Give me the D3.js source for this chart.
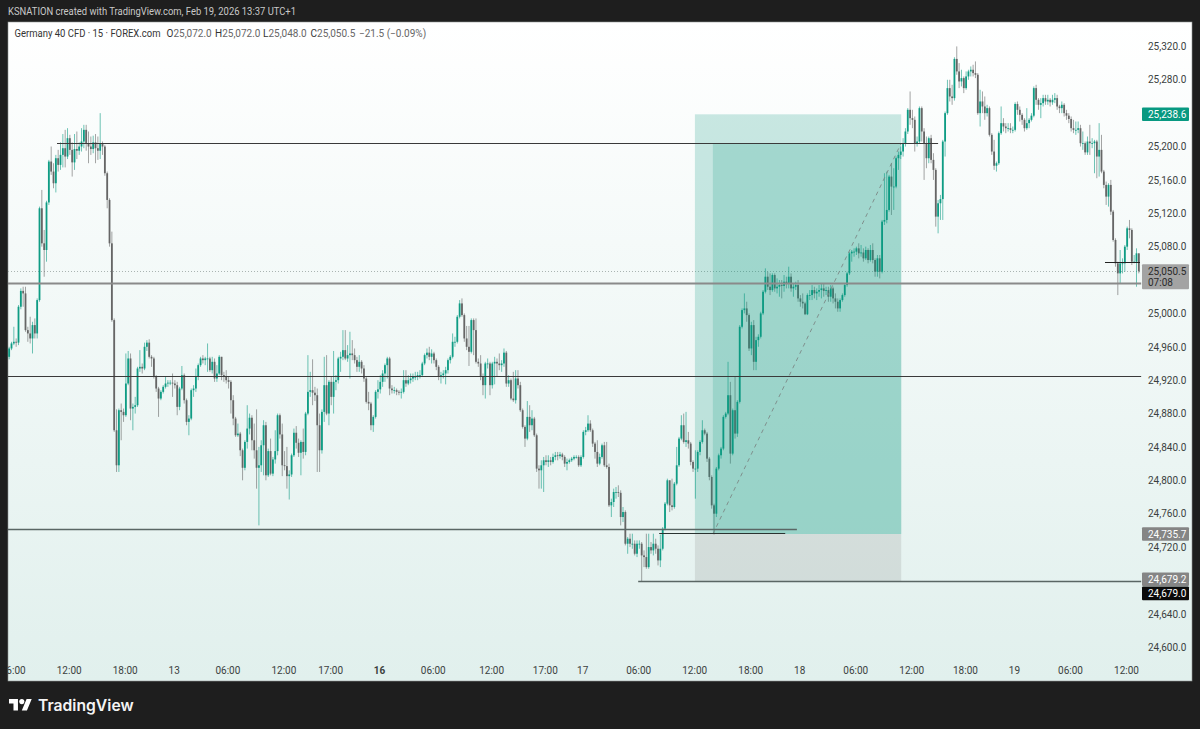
<!DOCTYPE html>
<html>
<head>
  <meta charset="utf-8">
  <script src="https://d3js.org/d3.v7.min.js"></script>
  <style>
    html, body { margin: 0; padding: 0; background: #1e1e1e; }
    svg { display: block; font-family: Roboto, sans-serif; }
  </style>
</head>
<body>
<svg id="chart" width="1200" height="729"></svg>
<script>
  // 15 minute candles
  var opens = [
    24948,24958,24964,24966,24965,25008,25027,25024,24980,24976,24970,24986,24976,25016,25126,25084,25076,25133,25182,25170,
    25156,25186,25178,25190,25198,25188,25210,25196,25181,25197,25195,25200,25206,25220,25204,25200,25197,25205,25198,25195,
    25203,25200,25168,25136,25084,24992,24860,24818,24884,24882,24878,24916,24946,24886,24888,24890,24934,24936,24934,24960,
    24965,24948,24946,24924,24910,24898,24906,24912,24916,24917,24917,24916,24914,24888,24910,24926,24896,24870,24874,24908,
    24910,24924,24938,24946,24944,24946,24946,24932,24942,24922,24928,24948,24926,24924,24920,24918,24896,24874,24854,24856,
    24836,24815,24846,24862,24875,24848,24836,24815,24818,24842,24866,24806,24835,24808,24825,24835,24878,24855,24818,24817,
    24805,24807,24830,24857,24845,24833,24846,24834,24880,24906,24908,24905,24902,24866,24836,24882,24914,24880,24918,24900,
    24918,24920,24946,24948,24956,24946,24950,24952,24950,24944,24936,24942,24934,24922,24894,24892,24866,24876,24906,24909,
    24918,24928,24938,24946,24910,24908,24908,24906,24905,24906,24920,24916,24920,24922,24924,24924,24926,24926,24940,24950,
    24953,24948,24952,24944,24936,24924,24926,24928,24932,24944,24948,24966,24966,24996,25012,24998,24970,24960,24954,24992,
    24980,24942,24940,24924,24914,24940,24940,24914,24940,24942,24940,24938,24940,24953,24916,24920,24898,24896,24922,24914,
    24884,24864,24850,24876,24866,24874,24854,24814,24812,24818,24824,24822,24824,24822,24828,24830,24829,24831,24828,24820,
    24822,24824,24826,24828,24828,24818,24828,24858,24860,24868,24860,24844,24834,24820,24828,24842,24818,24816,24770,24774,
    24786,24786,24785,24756,24762,24724,24730,24724,24724,24712,24724,24724,24710,24708,24696,24720,24716,24724,24718,24704,
    24718,24742,24772,24800,24770,24768,24796,24818,24850,24866,24846,24848,24844,24822,24814,24814,24834,24846,24860,24856,
    24826,24804,24770,24760,24814,24830,24838,24876,24880,24902,24832,24884,24856,24894,24984,25004,25006,24998,24958,24986,
    24942,24968,24972,25000,25026,25044,25032,25028,25046,25030,25032,25034,25033,25038,25036,25044,25030,25032,25034,25018,
    25014,25012,24999,25022,25022,25028,25024,25026,25028,25030,25027,25028,25020,25030,25018,25014,25006,25016,25022,25034,
    25048,25072,25074,25074,25078,25072,25073,25066,25076,25064,25076,25064,25050,25066,25050,25110,25112,25124,25164,25152,
    25152,25186,25190,25194,25204,25218,25244,25234,25232,25204,25206,25246,25218,25204,25186,25210,25184,25172,25116,25132,
    25137,25206,25240,25270,25260,25258,25305,25290,25278,25282,25270,25284,25290,25292,25288,25286,25240,25254,25248,25240,
    25246,25214,25194,25177,25180,25216,25228,25224,25222,25222,25220,25220,25251,25244,25238,25232,25222,25228,25232,25237,
    25270,25256,25250,25252,25258,25254,25256,25253,25256,25258,25248,25246,25250,25240,25237,25233,25222,25220,25220,25222,
    25204,25204,25193,25206,25204,25204,25206,25188,25196,25170,25154,25140,25154,25122,25088,25060,25048,25060,25060,25080,
    25102,25100,25062,25062,25072
  ];
  var highs = [
    24960,24966,24984,24970,25010,25030,25032,25032,24984,24996,24990,24994,25018,25128,25148,25100,25135,25184,25200,25180,
    25190,25196,25205,25215,25220,25222,25214,25205,25215,25218,25205,25222,25226,25226,25218,25212,25213,25215,25212,25240,
    25206,25202,25170,25138,25098,24994,24885,24886,24892,24886,24952,24955,24952,24892,24900,24936,24956,24940,24965,24968,
    24969,24950,24948,24926,24912,24908,24914,24924,24920,24920,24928,24920,24918,24912,24937,24928,24898,24878,24910,24914,
    24934,24940,24948,24950,24948,24964,24948,24948,24946,24938,24950,24948,24930,24932,24924,24920,24902,24876,24868,24858,
    24838,24848,24890,24880,24878,24868,24885,24840,24848,24872,24870,24838,24850,24828,24860,24880,24880,24868,24835,24840,
    24812,24832,24862,24865,24850,24848,24862,24882,24950,24930,24945,24912,24910,24880,24885,24948,24950,24920,24924,24955,
    24926,24948,24954,24980,24980,24962,24978,24968,24958,24948,24950,24944,24938,24924,24906,24894,24878,24908,24920,24926,
    24932,24940,24948,24948,24914,24912,24910,24908,24910,24932,24932,24926,24928,24928,24930,24930,24932,24942,24952,24958,
    24960,24957,24954,24946,24938,24930,24932,24936,24946,24950,24976,24972,24998,25016,25018,25000,24985,24985,24994,24994,
    24994,24946,24950,24928,24942,24946,24942,24942,24948,24946,24952,24944,24958,24955,24926,24922,24930,24932,24932,24918,
    24886,24866,24895,24890,24884,24876,24856,24818,24824,24828,24830,24830,24828,24832,24834,24834,24834,24833,24830,24826,
    24826,24828,24830,24830,24830,24830,24860,24864,24878,24872,24862,24846,24848,24832,24844,24846,24846,24820,24778,24790,
    24792,24794,24788,24768,24764,24732,24736,24736,24728,24728,24728,24726,24716,24736,24736,24726,24736,24730,24722,24735,
    24744,24774,24802,24800,24802,24798,24840,24852,24878,24880,24882,24858,24846,24824,24836,24836,24848,24872,24862,24858,
    24828,24806,24772,24816,24832,24840,24878,24882,24942,24918,24886,24924,24896,24986,25006,25024,25014,25000,24990,24992,
    24972,24975,25002,25028,25054,25050,25048,25048,25048,25042,25040,25040,25046,25044,25056,25048,25036,25038,25040,25022,
    25024,25014,25024,25028,25034,25032,25030,25034,25036,25036,25032,25032,25034,25032,25024,25018,25018,25024,25036,25050,
    25074,25076,25078,25080,25084,25082,25078,25080,25078,25082,25084,25066,25070,25070,25112,25168,25170,25166,25180,25174,
    25188,25194,25200,25210,25222,25246,25266,25244,25236,25212,25248,25248,25222,25212,25212,25214,25192,25174,25136,25142,
    25208,25242,25280,25280,25274,25307,25320,25300,25292,25284,25290,25292,25296,25298,25302,25288,25268,25266,25260,25250,
    25248,25216,25208,25182,25218,25248,25234,25228,25228,25228,25224,25253,25254,25248,25240,25234,25246,25234,25240,25272,
    25274,25258,25258,25262,25262,25262,25258,25262,25264,25262,25250,25254,25252,25244,25240,25236,25232,25230,25230,25226,
    25218,25206,25212,25226,25210,25208,25208,25228,25214,25172,25158,25156,25160,25124,25090,25062,25076,25066,25082,25104,
    25112,25102,25070,25078,25072
  ];
  var lows = [
    24945,24956,24962,24960,24962,25005,25008,24978,24966,24964,24952,24970,24970,25014,25080,25044,25062,25130,25166,25150,
    25145,25170,25172,25175,25175,25185,25190,25164,25172,25185,25190,25194,25198,25195,25180,25190,25192,25180,25184,25185,
    25190,25165,25126,25080,24990,24858,24810,24810,24848,24870,24876,24914,24872,24860,24880,24888,24930,24928,24932,24955,
    24946,24936,24922,24906,24876,24896,24904,24910,24912,24914,24900,24910,24878,24884,24908,24892,24866,24854,24872,24900,
    24906,24920,24936,24940,24938,24930,24930,24928,24918,24918,24926,24920,24918,24916,24910,24880,24866,24852,24852,24829,
    24800,24812,24838,24855,24836,24826,24790,24746,24810,24806,24800,24804,24806,24805,24820,24830,24850,24805,24812,24790,
    24777,24804,24828,24838,24828,24806,24826,24830,24878,24900,24890,24895,24810,24810,24832,24870,24878,24866,24890,24880,
    24908,24916,24930,24944,24944,24942,24922,24944,24940,24930,24930,24928,24918,24892,24884,24860,24858,24874,24898,24904,
    24912,24918,24922,24902,24904,24904,24902,24902,24898,24904,24912,24914,24916,24918,24920,24920,24922,24924,24938,24946,
    24944,24940,24940,24932,24920,24916,24922,24915,24928,24940,24946,24960,24964,24994,24996,24966,24956,24937,24952,24950,
    24940,24936,24920,24902,24898,24934,24902,24910,24915,24924,24932,24930,24936,24912,24912,24896,24894,24892,24910,24882,
    24862,24840,24848,24858,24860,24852,24810,24790,24790,24786,24818,24816,24818,24820,24824,24824,24826,24824,24816,24812,
    24820,24822,24824,24826,24816,24816,24826,24854,24858,24858,24840,24826,24816,24818,24826,24816,24814,24768,24756,24768,
    24778,24780,24746,24750,24722,24712,24720,24718,24710,24708,24718,24679,24696,24694,24694,24712,24710,24712,24698,24696,
    24716,24740,24770,24762,24764,24766,24794,24816,24848,24844,24840,24838,24818,24810,24778,24810,24830,24844,24854,24822,
    24800,24766,24735,24756,24812,24826,24836,24874,24878,24820,24830,24850,24852,24892,24982,25000,24990,24955,24950,24932,
    24932,24960,24970,24998,25024,25028,25022,25026,25026,25024,25020,25018,25026,25030,25030,25026,25020,25028,25014,25008,
    25006,24998,24998,25016,25016,25018,25016,25020,25018,25020,25022,25014,25014,25012,25006,25002,25002,25014,25020,25032,
    25046,25062,25068,25070,25066,25068,25062,25064,25060,25062,25060,25044,25044,25042,25048,25106,25108,25122,25118,25124,
    25150,25172,25185,25188,25200,25215,25226,25222,25194,25200,25204,25206,25160,25174,25180,25180,25160,25104,25096,25112,
    25112,25188,25238,25254,25250,25255,25286,25270,25272,25264,25268,25280,25284,25284,25282,25238,25224,25240,25232,25236,
    25212,25190,25172,25170,25178,25214,25218,25216,25218,25216,25216,25218,25238,25230,25226,25218,25220,25222,25230,25235,
    25250,25244,25234,25248,25250,25250,25248,25250,25252,25244,25240,25240,25236,25232,25228,25218,25216,25214,25216,25200,
    25196,25190,25190,25190,25198,25168,25162,25164,25168,25150,25130,25128,25118,25086,25056,25022,25036,25048,25050,25076,
    25090,25058,25060,25032,25048
  ];
  var closes = [
    24958,24964,24966,24965,25008,25027,25024,24980,24976,24970,24986,24976,25016,25126,25084,25076,25133,25182,25170,25156,
    25186,25178,25190,25198,25188,25210,25196,25181,25197,25195,25200,25206,25220,25204,25200,25197,25205,25198,25195,25203,
    25200,25168,25136,25084,24992,24860,24818,24884,24882,24878,24916,24946,24886,24888,24890,24934,24936,24934,24960,24965,
    24948,24946,24924,24910,24898,24906,24912,24916,24917,24917,24916,24914,24888,24910,24926,24896,24870,24874,24908,24910,
    24924,24938,24946,24944,24946,24946,24932,24942,24922,24928,24948,24926,24924,24920,24918,24896,24874,24854,24856,24836,
    24815,24846,24862,24875,24848,24836,24815,24818,24842,24866,24806,24835,24808,24825,24835,24878,24855,24818,24817,24805,
    24807,24830,24857,24845,24833,24846,24834,24880,24906,24908,24905,24902,24866,24836,24882,24914,24880,24918,24900,24918,
    24920,24946,24948,24956,24946,24950,24952,24950,24944,24936,24942,24934,24922,24894,24892,24866,24876,24906,24909,24918,
    24928,24938,24946,24910,24908,24908,24906,24905,24906,24920,24916,24920,24922,24924,24924,24926,24926,24940,24950,24953,
    24948,24952,24944,24936,24924,24926,24928,24932,24944,24948,24966,24966,24996,25012,24998,24970,24960,24954,24992,24980,
    24942,24940,24924,24914,24940,24940,24914,24940,24942,24940,24938,24940,24953,24916,24920,24898,24896,24922,24914,24884,
    24864,24850,24876,24866,24874,24854,24814,24812,24818,24824,24822,24824,24822,24828,24830,24829,24831,24828,24820,24822,
    24824,24826,24828,24828,24818,24828,24858,24860,24868,24860,24844,24834,24820,24828,24842,24818,24816,24770,24774,24786,
    24786,24785,24756,24762,24724,24730,24724,24724,24712,24724,24724,24710,24708,24696,24720,24716,24724,24718,24704,24718,
    24742,24772,24800,24770,24768,24796,24818,24850,24866,24846,24848,24844,24822,24814,24814,24834,24846,24860,24856,24826,
    24804,24770,24760,24814,24830,24838,24876,24880,24902,24832,24884,24856,24894,24984,25004,25006,24998,24958,24986,24942,
    24968,24972,25000,25026,25044,25032,25028,25046,25030,25032,25034,25033,25038,25036,25044,25030,25032,25034,25018,25014,
    25012,24999,25022,25022,25028,25024,25026,25028,25030,25027,25028,25020,25030,25018,25014,25006,25016,25022,25034,25048,
    25072,25074,25074,25078,25072,25073,25066,25076,25064,25076,25064,25050,25066,25050,25110,25112,25124,25164,25152,25152,
    25186,25190,25194,25204,25218,25244,25234,25232,25204,25206,25246,25218,25204,25186,25210,25184,25172,25116,25132,25137,
    25206,25240,25270,25260,25258,25305,25290,25278,25282,25270,25284,25290,25292,25288,25286,25240,25254,25248,25240,25246,
    25214,25194,25177,25180,25216,25228,25224,25222,25222,25220,25220,25251,25244,25238,25232,25222,25228,25232,25237,25270,
    25256,25250,25252,25258,25254,25256,25253,25256,25258,25248,25246,25250,25240,25237,25233,25222,25220,25220,25222,25204,
    25204,25193,25206,25204,25204,25206,25188,25196,25170,25154,25140,25154,25122,25088,25060,25048,25060,25060,25080,25102,
    25100,25062,25062,25072,25050.5
  ];

  var priceTicks = [24600,24640,24720,24760,24800,24840,24880,24920,24960,25000,25080,25120,25160,25200,25280,25320];

  // bar index and label of each time tick
  var timeIndex = [2,26,50,71,94,118,138,159,182,207,230,246,270,294,318,339,363,387,410,431,455,479];
  var timeLabels = ['06:00','12:00','18:00','13','06:00','12:00','17:00','16','06:00','12:00','17:00','17','06:00','12:00','18:00','18','06:00','12:00','18:00','19','06:00','12:00'];

  var levels = [
    {price: 25204, from: 21, to: 398.5, color: '#3a3a3a', width: 1},
    {price: 25035.5, from: 0, to: 485.5, color: '#8a8a8a', width: 2},
    {price: 24925, from: 0, to: 485.5, color: '#3a3a3a', width: 1},
    {price: 24740.5, from: 0, to: 338, color: '#5a6664', width: 1.4},
    {price: 24735.7, from: 279, to: 333, color: '#2a3331', width: 1},
    {price: 24679.2, from: 270, to: 485.5, color: '#5a6664', width: 1.4},
    {price: 25060.5, from: 470, to: 485, color: '#222', width: 1}
  ];

  var target = 25238.6, entry = 24735.7, stop = 24679.2, hit = 25204;
  var boxFrom = 294.3, boxHit = 302, boxTo = 382.7;

  var priceLabels = [
    {price: 25238.6, text: '25,238.6', bg: '#089981', fg: '#fff'},
    {price: 24735.7, text: '24,735.7', bg: '#858585', fg: '#fff'},
    {price: 24681.4, text: '24,679.2', bg: '#858585', fg: '#fff'},
    {price: 24664.5, text: '24,679.0', bg: '#0a0a0a', fg: '#fff'}
  ];

  var svg = d3.select('#chart');
  var left = 8, top_ = 22, right = 1192, bottom = 681, plotRight = 1141;

  var x = d3.scaleLinear().domain([0, 485]).range([left, 1140]);
  var y = d3.scaleLinear().domain([24600, 25320]).range([647.2, 46.4]);
  var n = closes.length;

  // keep thin lines on the pixel grid
  function snap(v) { return Math.round(v - 0.5) + 0.5; }

  var defs = svg.append('defs');
  var grad = defs.append('linearGradient').attr('id', 'bg').attr('x1', 0).attr('x2', 0).attr('y1', 0).attr('y2', 1);
  grad.append('stop').attr('offset', '0%').attr('stop-color', '#ffffff');
  grad.append('stop').attr('offset', '100%').attr('stop-color', '#e1f0ed');
  defs.append('clipPath').attr('id', 'plot').append('rect')
    .attr('x', left).attr('y', top_).attr('width', right - left).attr('height', bottom - top_);

  svg.append('rect').attr('x', 0).attr('y', 0).attr('width', 1200).attr('height', 729).attr('fill', '#1e1e1e');
  svg.append('rect').attr('x', left).attr('y', top_).attr('width', right - left).attr('height', bottom - top_)
    .attr('fill', 'url(#bg)').attr('stroke', '#8f9493').attr('stroke-width', 0.6);

  // last price dotted line
  svg.append('line').attr('x1', left).attr('x2', plotRight).attr('y1', snap(y(25050.5))).attr('y2', snap(y(25050.5)))
    .attr('stroke', '#aab4b2').attr('stroke-width', 1).attr('stroke-dasharray', '1,2');

  // candles
  var candles = svg.append('g').attr('clip-path', 'url(#plot)').selectAll('g').data(d3.range(n)).enter().append('g');
  function candleColor(i) { return closes[i] >= opens[i] ? '#0f9c84' : '#666666'; }
  candles.append('line')
    .attr('x1', function(i) { return x(i + 0.5); })
    .attr('x2', function(i) { return x(i + 0.5); })
    .attr('y1', function(i) { return y(highs[i]); })
    .attr('y2', function(i) { return y(lows[i]); })
    .attr('stroke', candleColor)
    .attr('stroke-opacity', 0.75)
    .attr('stroke-width', 0.8);
  candles.append('rect')
    .attr('x', function(i) { return x(i + 0.5) - 0.9; })
    .attr('width', 1.8)
    .attr('y', function(i) { return y(Math.max(opens[i], closes[i])); })
    .attr('height', function(i) { return Math.max(0.8, Math.abs(y(opens[i]) - y(closes[i]))); })
    .attr('fill', candleColor);

  // long position tool
  var pos = svg.append('g');
  pos.append('rect').attr('x', x(boxFrom)).attr('width', x(boxTo) - x(boxFrom))
    .attr('y', y(target)).attr('height', y(entry) - y(target)).attr('fill', '#089981').attr('fill-opacity', 0.21);
  pos.append('rect').attr('x', x(boxHit)).attr('width', x(boxTo) - x(boxHit))
    .attr('y', y(hit)).attr('height', y(entry) - y(hit)).attr('fill', '#089981').attr('fill-opacity', 0.19);
  pos.append('rect').attr('x', x(boxFrom)).attr('width', x(boxTo) - x(boxFrom))
    .attr('y', y(entry)).attr('height', y(stop) - y(entry)).attr('fill', '#787878').attr('fill-opacity', 0.18);
  pos.append('line').attr('x1', x(boxHit)).attr('x2', x(boxTo)).attr('y1', y(entry)).attr('y2', y(hit))
    .attr('stroke', '#7c8886').attr('stroke-width', 0.9).attr('stroke-dasharray', '4,4');

  // horizontal levels
  svg.append('g').selectAll('line').data(levels).enter().append('line')
    .attr('x1', function(d) { return x(d.from); })
    .attr('x2', function(d) { return x(d.to); })
    .attr('y1', function(d) { return snap(y(d.price)); })
    .attr('y2', function(d) { return snap(y(d.price)); })
    .attr('stroke', function(d) { return d.color; })
    .attr('stroke-width', function(d) { return d.width; });

  // axes
  var yAxis = d3.axisRight(y).tickValues(priceTicks).tickSize(0).tickFormat(d3.format(',.1f'));
  var yG = svg.append('g').attr('transform', 'translate(1146,0)').call(yAxis);
  yG.select('.domain').remove();
  yG.selectAll('text').attr('x', 2).attr('fill', '#3b3f3e').style('font-size', '10px').style('font-family', 'Roboto, sans-serif');

  var xAxis = d3.axisBottom(x).tickValues(timeIndex).tickSize(0).tickFormat(function(d, i) { return timeLabels[i]; });
  var xG = svg.append('g').attr('clip-path', 'url(#plot)').append('g').attr('transform', 'translate(0,667)').call(xAxis);
  xG.select('.domain').remove();
  xG.selectAll('text').attr('y', 0).attr('dy', '0.71em').attr('fill', '#3b3f3e').style('font-size', '10px')
    .style('font-family', 'Roboto, sans-serif')
    .style('font-weight', function(d, i) { return timeLabels[i] === '16' ? 700 : 400; });

  // price labels on the scale
  var pl = svg.append('g').selectAll('g').data(priceLabels).enter().append('g')
    .attr('transform', function(d) { return 'translate(1142,' + y(d.price) + ')'; });
  pl.append('rect').attr('x', 0).attr('y', -6.8).attr('width', 47).attr('height', 13.6).attr('rx', 1)
    .attr('fill', function(d) { return d.bg; });
  pl.append('text').attr('x', 6).attr('dy', '0.36em').attr('fill', function(d) { return d.fg; })
    .style('font-size', '10px').text(function(d) { return d.text; });

  // last price and countdown
  var last = svg.append('g').attr('transform', 'translate(1142,' + y(25050.5) + ')');
  last.append('rect').attr('y', -7).attr('width', 47).attr('height', 25).attr('rx', 1).attr('fill', '#a3a3a3');
  last.append('text').attr('x', 6).attr('dy', '0.36em').attr('fill', '#2a2a2a').style('font-size', '10px').text('25,050.5');
  last.append('text').attr('x', 6).attr('y', 11.5).attr('dy', '0.36em').attr('fill', '#2a2a2a').style('font-size', '10px').text('07:08');

  // header and legend
  svg.append('text').attr('x', 8).attr('y', 15).attr('fill', '#c9c9c9').style('font-size', '10px')
    .attr('textLength', 288).attr('lengthAdjust', 'spacingAndGlyphs')
    .text('KSNATION created with TradingView.com, Feb 19, 2026 13:37 UTC+1');

  var legend = svg.append('g').attr('transform', 'translate(0,37)').style('font-size', '10px');
  legend.append('text').attr('x', 14.5).attr('fill', '#333')
    .attr('textLength', 146).attr('lengthAdjust', 'spacingAndGlyphs')
    .text('Germany 40 CFD \u00b7 15 \u00b7 FOREX.com');
  [['O', '25,072.0', 166.5], ['H', '25,072.0', 215], ['L', '25,048.0', 263], ['C', '25,050.5', 310.5]].forEach(function(p) {
    var t = legend.append('text').attr('x', p[2]).attr('fill', '#333');
    t.append('tspan').text(p[0]);
    t.append('tspan').attr('fill', '#666').text(p[1]);
  });
  legend.append('text').attr('x', 359).attr('fill', '#666').text('\u221221.5 (\u22120.09%)');

  // logo
  var logo = svg.append('g').attr('transform', 'translate(9,696.5) scale(0.64)').attr('fill', '#fff');
  logo.append('path').attr('d', 'M14 22H7V11H0V4h14v18zM28 22h-8l7.5-18h8L28 22z');
  logo.append('circle').attr('cx', 20).attr('cy', 8).attr('r', 4);
  svg.append('text').attr('x', 38).attr('y', 711).attr('fill', '#f4f4f4')
    .style('font-family', 'Inter, sans-serif').style('font-size', '15.7px').style('font-weight', 600).text('TradingView');
</script>
</body>
</html>
